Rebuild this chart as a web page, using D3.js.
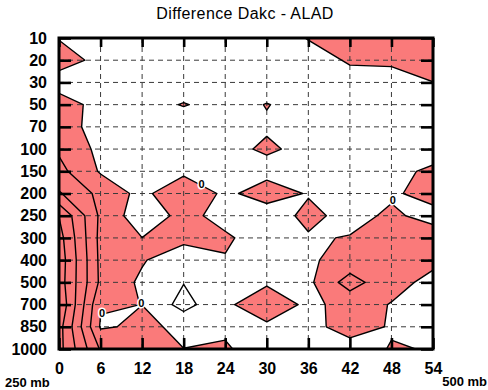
<!DOCTYPE html>
<html>
<head>
<meta charset="utf-8">
<script src="https://cdn.jsdelivr.net/npm/d3@7"></script>
<style>
  body { margin: 0; background: #fff; }
  svg { display: block; font-family: "Liberation Sans", Arial, sans-serif; }
</style>
</head>
<body>
<svg id="chart" width="488" height="390"></svg>
<script>
// forecast hour (x) and pressure level (y, evenly spaced)
const hours = [0, 6, 12, 18, 24, 30, 36, 42, 48, 54];
const levels = [10, 20, 30, 50, 70, 100, 150, 200, 250, 300, 400, 500, 700, 850, 1000];

// difference Dakc - ALAD, one row per level, one value per hour
const diff10   = [-0.055, -0.4, -0.5, -0.5, -0.5, -0.55, 0.05, 0.3, 0.4, 0.6];
const diff20   = [0.5, -0.3, -0.5, -0.5, -0.5, -0.5, -0.45, 0.1125, 0.2, 0.5];
const diff30   = [-0.56, -0.5, -0.5, -0.5, -0.5, -0.4, -0.5, -0.4, -0.49, -0.015];
const diff50   = [0.58, -0.415, -0.33, 0.05, -0.33, 0.03, -0.3, -0.5, -0.5, -0.4];
const diff70   = [0.7, -0.585, -0.5, -0.5, -0.5, -0.093, -0.4, -0.5, -0.5, -0.5];
const diff100  = [0.85, -0.254, -0.5, -0.5, -0.25, 0.124, -0.23, -0.5, -0.5, -0.51];
const diff150  = [1.3, -0.1, -0.5, -0.265, -0.5, -0.335, -0.4, -0.5, -0.3, 0.2];
const diff200  = [2.1, 0.72, -0.31, 0.94, -0.235, 0.5, -0.08, -0.3, -0.164, 0.415];
const diff250  = [3.97, 0.8, -0.63, 0.31, -0.35, -0.61, 0.29, -0.377, 0.2, -0.383];
const diff300  = [4.4, 0.7, 0.01, 0.3, 0.15, -0.5, -0.113, 0.06, 0.5, 0.575];
const diff400  = [4.6, 0.75, 0.093, -0.7, -0.067, -0.3, -0.1036, 0.28, 0.4, 0.114];
const diff500  = [4.52, 0.8, -0.19, -0.96, -0.4, -0.094, -0.22, 1.48, 0.17, -0.139];
const diff700  = [4.88, 0.082, -0.005, -1.385, -0.137, 0.46, -0.15, 0.22, -0.023, -0.3];
const diff850  = [4.4, -0.1, 0.15, -0.15, -0.18, -0.13, -0.151, 0.2, -0.041, -0.2];
const diff1000 = [4.35, 0.9, 0.5, 0.005, 0.12, -0.55, -0.3, -0.2, 0.027, -0.02];
const rows = [diff10, diff20, diff30, diff50, diff70, diff100, diff150, diff200,
  diff250, diff300, diff400, diff500, diff700, diff850, diff1000];

const contourLevels = [-1, 0, 1, 2, 3, 4];
// where the "0" labels sit: [hour, level index]
const zeroLabels = [[20.6, 6.6], [48.2, 7.3], [6.2, 12.4], [11.9, 11.95]];

const svg = d3.select('#chart');
const n = hours.length, m = levels.length;

const x = d3.scaleLinear().domain([0, 54]).range([59, 433]);
const y = d3.scaleLinear().domain([0, m - 1]).range([38, 349]);
const gx = d3.scaleLinear().domain([0, n - 1]).range([x(hours[0]), x(hours[n - 1])]);

// contour grid space -> pixels (value k sits at k + 0.5)
const project = d3.geoTransform({
  point(px, py) { this.stream.point(gx(px - 0.5), y(py - 0.5)); }
});
const path = d3.geoPath(project);

const contours = d3.contours().size([n, m]).thresholds(contourLevels)(rows.flat());

svg.append('clipPath').attr('id', 'plot')
  .append('rect')
  .attr('x', x(0)).attr('y', y(0))
  .attr('width', x(54) - x(0)).attr('height', y(m - 1) - y(0));

const plot = svg.append('g').attr('clip-path', 'url(#plot)');

// positive area
plot.append('path')
  .attr('d', path(contours.find(c => c.value === 0)))
  .attr('fill', '#fa7a7a');

// dashed grid
plot.append('g')
  .selectAll('line.v')
  .data(hours.slice(1, -1))
  .enter().append('line')
  .attr('x1', d => x(d)).attr('x2', d => x(d))
  .attr('y1', y(0)).attr('y2', y(m - 1));
plot.append('g')
  .selectAll('line.h')
  .data(d3.range(1, m - 1))
  .enter().append('line')
  .attr('x1', x(0)).attr('x2', x(54))
  .attr('y1', d => y(d)).attr('y2', d => y(d));
plot.selectAll('g line')
  .attr('stroke', '#3a3a3a')
  .attr('stroke-width', 1)
  .attr('stroke-dasharray', '5,4');

// contour lines
plot.append('g')
  .selectAll('path')
  .data(contours)
  .enter().append('path')
  .attr('d', path)
  .attr('fill', 'none')
  .attr('stroke', '#000')
  .attr('stroke-width', 1.4)
  .attr('stroke-linejoin', 'round');

// contour labels
plot.append('g')
  .selectAll('text')
  .data(zeroLabels)
  .enter().append('text')
  .attr('x', d => x(d[0]))
  .attr('y', d => y(d[1]))
  .attr('dy', '0.35em')
  .attr('text-anchor', 'middle')
  .attr('font-size', 11)
  .attr('font-weight', 'bold')
  .attr('stroke', '#fff')
  .attr('stroke-width', 3)
  .attr('paint-order', 'stroke')
  .text('0');

// axes with inward ticks
function styleAxis(g) {
  g.select('.domain').remove();
  g.selectAll('.tick line').attr('stroke', '#000').attr('stroke-width', 2.6);
  g.selectAll('.tick text')
    .attr('fill', '#000')
    .attr('font-family', '"Liberation Sans", Arial, sans-serif')
    .attr('font-size', 16)
    .attr('font-weight', 'bold');
}

svg.append('g')
  .attr('transform', `translate(0,${y(m - 1)})`)
  .call(d3.axisBottom(x).tickValues(hours).tickSizeInner(-11).tickSizeOuter(0).tickPadding(14))
  .call(styleAxis);
svg.append('g')
  .attr('transform', `translate(0,${y(0)})`)
  .call(d3.axisTop(x).tickValues(hours).tickSizeInner(-9).tickSizeOuter(0).tickFormat(''))
  .call(styleAxis);
svg.append('g')
  .attr('transform', `translate(${x(0)},0)`)
  .call(d3.axisLeft(y).tickValues(d3.range(m)).tickFormat(i => levels[i])
    .tickSizeInner(-12).tickSizeOuter(0).tickPadding(12))
  .call(styleAxis);
svg.append('g')
  .attr('transform', `translate(${x(54)},0)`)
  .call(d3.axisRight(y).tickValues(d3.range(m)).tickSizeInner(-12).tickSizeOuter(0).tickFormat(''))
  .call(styleAxis);

svg.append('rect')
  .attr('x', x(0)).attr('y', y(0))
  .attr('width', x(54) - x(0)).attr('height', y(m - 1) - y(0))
  .attr('fill', 'none')
  .attr('stroke', '#000')
  .attr('stroke-width', 3);

svg.append('text')
  .attr('x', 245).attr('y', 19)
  .attr('text-anchor', 'middle')
  .attr('font-size', 16)
  .attr('letter-spacing', 0.4)
  .text('Difference Dakc - ALAD');

svg.append('text')
  .attr('x', 5).attr('y', 387)
  .attr('font-size', 13)
  .attr('font-weight', 'bold')
  .text('250 mb');
svg.append('text')
  .attr('x', 487).attr('y', 386)
  .attr('text-anchor', 'end')
  .attr('font-size', 13)
  .attr('font-weight', 'bold')
  .text('500 mb');
</script>
</body>
</html>
